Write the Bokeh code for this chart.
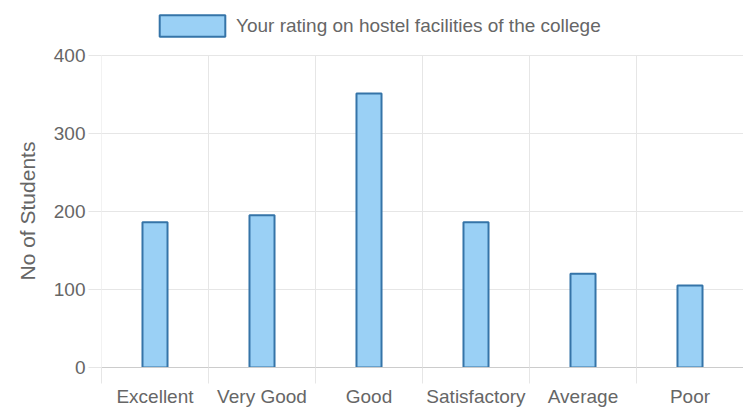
from bokeh.plotting import figure
from bokeh.models import FixedTicker, Legend, LegendItem, ColumnDataSource, Range1d, Title
from bokeh.embed import file_html
from bokeh.resources import INLINE

categories = ["Excellent", "Very Good", "Good", "Satisfactory", "Average", "Poor"]
students = [186, 195, 351, 186, 120, 105]
y_ticks = [0, 100, 200, 300, 400]
series_name = "Your rating on hostel facilities of the college"
y_title = "No of Students"

centers = [i + 0.5 for i in range(len(categories))]
bounds = list(range(len(categories) + 1))
y_max = y_ticks[-1]

src = ColumnDataSource(dict(x=centers, top=students, cat=categories))
grid_src = ColumnDataSource(dict(x=bounds, y0=[0] * len(bounds), y1=[y_max] * len(bounds)))

FONT = "Liberation Sans"
TXT = "#666666"
GRID = "#e6e6e6"

# extra headroom above the 400 line leaves space for the legend inside the frame
p = figure(width=743, height=409, output_backend="svg", toolbar_location=None,
           x_range=Range1d(0, len(categories)), y_range=Range1d(0, 460),
           min_border_left=101, min_border_right=0, min_border_bottom=40,
           min_border_top=8, outline_line_color=None)

# vertical grid lines at category boundaries, ending at the top tick
p.segment(x0="x", y0="y0", x1="x", y1="y1", source=grid_src,
          line_color=GRID, line_width=1)

r = p.vbar(x="x", top="top", width=0.234, bottom=0, source=src,
           fill_color="#9ad0f5", line_color="#3574a8", line_width=2)

# x axis
p.xaxis.ticker = FixedTicker(ticks=centers, minor_ticks=bounds)
p.xaxis.major_label_overrides = {c: n for c, n in zip(centers, categories)}
p.xaxis.major_tick_line_color = None
p.xaxis.major_tick_out = 13
p.xaxis.major_tick_in = 0
p.xaxis.minor_tick_out = 16
p.xaxis.minor_tick_in = 0
p.xaxis.minor_tick_line_color = GRID
p.xaxis.axis_line_color = "#cccccc"
p.xaxis.major_label_standoff = 2
p.xaxis.major_label_text_font = FONT
p.xaxis.major_label_text_font_size = "19px"
p.xaxis.major_label_text_color = TXT
p.xgrid.grid_line_color = None

# y axis
p.yaxis.ticker = FixedTicker(ticks=y_ticks)
p.yaxis.axis_line_color = None
p.yaxis.major_tick_out = 13
p.yaxis.major_tick_in = 0
p.yaxis.minor_tick_line_color = None
p.yaxis.major_tick_line_color = GRID
p.yaxis.major_label_standoff = 3
p.yaxis.major_label_text_font = FONT
p.yaxis.major_label_text_font_size = "19px"
p.yaxis.major_label_text_color = TXT
p.ygrid.ticker = FixedTicker(ticks=y_ticks)
p.ygrid.grid_line_color = GRID

# y-axis title, centred on the 0-400 span rather than the whole frame
ytitle = Title(text=y_title, align="left", offset=87, standoff=23,
               text_font=FONT, text_font_size="21px", text_font_style="normal",
               text_color=TXT)
p.add_layout(ytitle, "left")

legend = Legend(items=[LegendItem(label=series_name, renderers=[r])],
                location=(50, 328), orientation="horizontal",
                glyph_width=82, glyph_height=27, label_height=27,
                label_text_font=FONT, label_text_font_size="19px",
                label_text_color=TXT, label_standoff=3,
                padding=0, margin=0, border_line_color=None,
                background_fill_alpha=0)
p.add_layout(legend, "center")

open("out.html", "w").write(file_html(p, INLINE))
